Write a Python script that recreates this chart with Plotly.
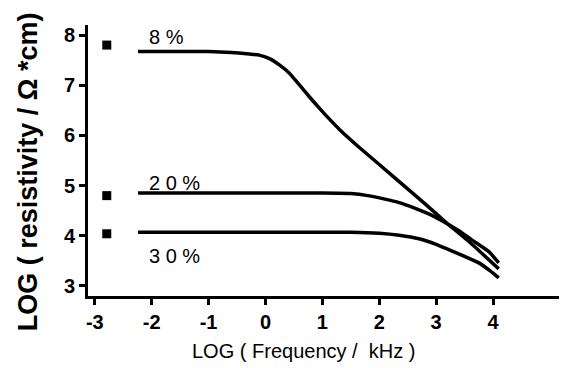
import plotly.graph_objects as go

# Curves (log frequency, log resistivity)
x8 = [-2.24, -1.0, -0.6, -0.28, -0.11, 0.07, 0.25, 0.42, 0.6, 0.77, 0.95, 1.12, 1.3,
      1.65, 2.0, 2.35, 2.8, 3.2, 3.6, 4.1]
y8 = [7.67, 7.67, 7.65, 7.62, 7.6, 7.53, 7.4, 7.24, 7.0, 6.77, 6.54, 6.33, 6.12,
      5.76, 5.42, 5.08, 4.64, 4.24, 3.86, 3.34]

x20 = [-2.24, 1.0, 1.5, 1.8, 2.1, 2.35, 2.6, 2.88, 3.1, 3.4, 3.7, 3.93, 4.1]
y20 = [4.85, 4.85, 4.84, 4.8, 4.73, 4.66, 4.56, 4.43, 4.3, 4.1, 3.86, 3.68, 3.46]

x30 = [-2.24, 1.5, 2.0, 2.35, 2.7, 3.0, 3.23, 3.5, 3.75, 3.95, 4.1]
y30 = [4.07, 4.07, 4.05, 4.01, 3.94, 3.83, 3.72, 3.59, 3.46, 3.3, 3.16]

# DC points
dc_x = [-2.79, -2.79, -2.79]
dc_y = [7.8, 4.8, 4.04]

labels = ["8 %", "2 0 %", "3 0 %"]
label_x = [-2.09, -2.09, -2.09]
label_y = [7.96, 5.06, 3.6]

xticks = [-3, -2, -1, 0, 1, 2, 3, 4]
xticktext = ["-3", "-2", "-1", "0", "1", "2", "3", "4"]
yticks = [3, 4, 5, 6, 7, 8]

FONT = "Liberation Sans, Arial"

fig = go.Figure()
for xs, ys in [(x8, y8), (x20, y20), (x30, y30)]:
    fig.add_trace(go.Scatter(x=xs, y=ys, mode="lines",
                             line=dict(color="black", width=3.5, shape="spline", smoothing=0.5),
                             showlegend=False, hoverinfo="skip"))
fig.add_trace(go.Scatter(x=dc_x, y=dc_y, mode="markers",
                         marker=dict(symbol="square", size=9, color="black"),
                         showlegend=False))

for t, lx, ly in zip(labels, label_x, label_y):
    fig.add_annotation(x=lx, y=ly, text=t, showarrow=False, xanchor="left",
                       yanchor="middle",
                       font=dict(family=FONT, size=20, color="black"))

fig.add_annotation(xref="paper", yref="paper", x=-0.125, y=0.457,
                   text="<b>LOG ( resistivity / Ω *cm)</b>", textangle=-90,
                   showarrow=False, xanchor="center", yanchor="middle",
                   font=dict(family=FONT, size=27, color="black"))
fig.add_annotation(xref="paper", yref="paper", x=0.45, y=-0.203,
                   text="LOG ( Frequency /  kHz )", showarrow=False,
                   xanchor="center", yanchor="middle",
                   font=dict(family=FONT, size=20, color="black"))

axis_common = dict(showgrid=False, zeroline=False, showline=True, linecolor="black",
                   linewidth=3, ticks="outside", ticklen=6, tickwidth=3, tickcolor="black",
                   tickfont=dict(family=FONT, size=20, color="black", weight="bold"))
fig.update_xaxes(range=[-3.12, 5.3], tickvals=xticks, ticktext=xticktext, **axis_common)
fig.update_yaxes(range=[2.8, 8.2], tickvals=yticks, **axis_common)

# page body has an 8px margin; size the figure so the plot area lands as in the reference
fig.update_layout(width=559, height=360, margin=dict(l=80, r=0, t=17, b=72),
                  plot_bgcolor="white", paper_bgcolor="white")
fig.write_html("out.html")
